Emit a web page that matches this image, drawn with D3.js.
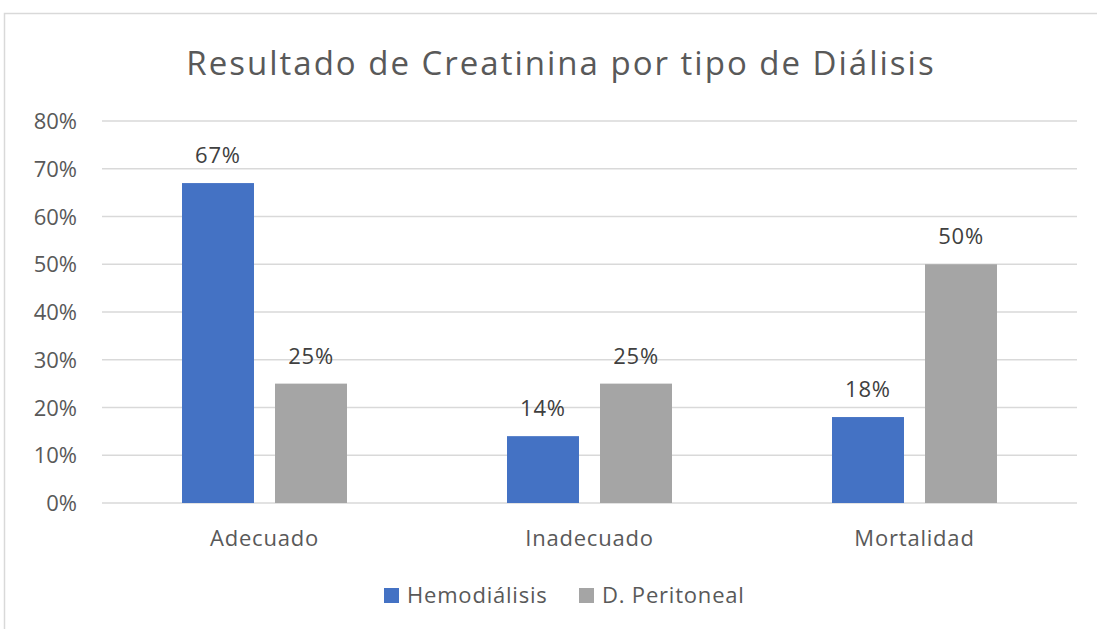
<!DOCTYPE html>
<html>
<head>
<meta charset="utf-8">
<script src="https://cdn.jsdelivr.net/npm/d3@7"></script>
<style>
  body { margin: 0; background: #fff; }
  svg text { font-family: "Open Sans", sans-serif; }
</style>
</head>
<body>
<div id="chart"></div>
<script>
(function(){

  // chart data
  var categories = ["Adecuado", "Inadecuado", "Mortalidad"];
  var seriesNames = ["Hemodiálisis", "D. Peritoneal"];
  var hemodialisis = [0.67, 0.14, 0.18];
  var peritoneal = [0.25, 0.25, 0.50];
  var yTicks = [0, 0.1, 0.2, 0.3, 0.4, 0.5, 0.6, 0.7, 0.8];
  var colors = ["#4472C4", "#A5A5A5"];

  var width = 1097, height = 629;
  var plot = {left: 102, right: 1077, top: 121, bottom: 503};

  var svg = d3.select("#chart").append("svg")
      .attr("width", width)
      .attr("height", height);

  // chart border
  svg.append("rect")
      .attr("x", 4.5).attr("y", 13.5)
      .attr("width", 1200).attr("height", 700)
      .attr("fill", "#fff")
      .attr("stroke", "#d9d9d9")
      .attr("stroke-width", 1.5);

  // title
  svg.append("text")
      .attr("x", 561).attr("y", 75)
      .attr("text-anchor", "middle")
      .attr("font-size", 33)
      .attr("letter-spacing", 2)
      .attr("fill", "#595959")
      .text("Resultado de Creatinina por tipo de Diálisis");

  var x = d3.scaleBand()
      .domain(categories)
      .range([plot.left, plot.right]);

  var xInner = d3.scaleBand()
      .domain(seriesNames)
      .range([0, 165])
      .paddingInner(0.226);

  var y = d3.scaleLinear()
      .domain([0, 0.8])
      .range([plot.bottom, plot.top]);

  // gridlines
  svg.append("g").selectAll("line")
      .data(yTicks)
      .enter().append("line")
      .attr("x1", plot.left).attr("x2", plot.right)
      .attr("y1", function(d){ return y(d); })
      .attr("y2", function(d){ return y(d); })
      .attr("stroke", "#d9d9d9")
      .attr("stroke-width", 1.5);

  // y labels
  svg.append("g").selectAll("text")
      .data(yTicks)
      .enter().append("text")
      .attr("x", 77)
      .attr("y", function(d){ return y(d) + 8; })
      .attr("text-anchor", "end")
      .attr("font-size", 22)
      .attr("fill", "#595959")
      .text(d3.format(".0%"));

  // category labels
  svg.append("g").selectAll("text")
      .data(categories)
      .enter().append("text")
      .attr("x", function(d){ return x(d) + x.bandwidth() / 2; })
      .attr("y", 546)
      .attr("text-anchor", "middle")
      .attr("font-size", 22)
      .attr("letter-spacing", 0.8)
      .attr("fill", "#595959")
      .text(function(d){ return d; });

  // build rows from the arrays
  var rows = [];
  categories.forEach(function(c, i){
    rows.push({cat: c, series: seriesNames[0], value: hemodialisis[i], color: colors[0]});
    rows.push({cat: c, series: seriesNames[1], value: peritoneal[i], color: colors[1]});
  });

  var groupOffset = (x.bandwidth() - 165) / 2;

  svg.append("g").selectAll("rect")
      .data(rows)
      .enter().append("rect")
      .attr("x", function(d){ return x(d.cat) + groupOffset + xInner(d.series); })
      .attr("y", function(d){ return y(d.value); })
      .attr("width", xInner.bandwidth())
      .attr("height", function(d){ return y(0) - y(d.value); })
      .attr("fill", function(d){ return d.color; });

  // data labels
  svg.append("g").selectAll("text")
      .data(rows)
      .enter().append("text")
      .attr("x", function(d){ return x(d.cat) + groupOffset + xInner(d.series) + xInner.bandwidth() / 2; })
      .attr("y", function(d){ return y(d.value) - 20; })
      .attr("text-anchor", "middle")
      .attr("font-size", 22)
      .attr("letter-spacing", 0.8)
      .attr("fill", "#404040")
      .text(function(d){ return d3.format(".0%")(d.value); });

  // legend
  var legendX = [384, 579];
  var legend = svg.append("g").selectAll("g")
      .data(seriesNames)
      .enter().append("g")
      .attr("transform", function(d, i){ return "translate(" + legendX[i] + ",588)"; });
  legend.append("rect")
      .attr("width", 15).attr("height", 15)
      .attr("fill", function(d, i){ return colors[i]; });
  legend.append("text")
      .attr("x", 23).attr("y", 15)
      .attr("font-size", 22)
      .attr("letter-spacing", 0.8)
      .attr("fill", "#595959")
      .text(function(d){ return d; });

})();
</script>
</body>
</html>
